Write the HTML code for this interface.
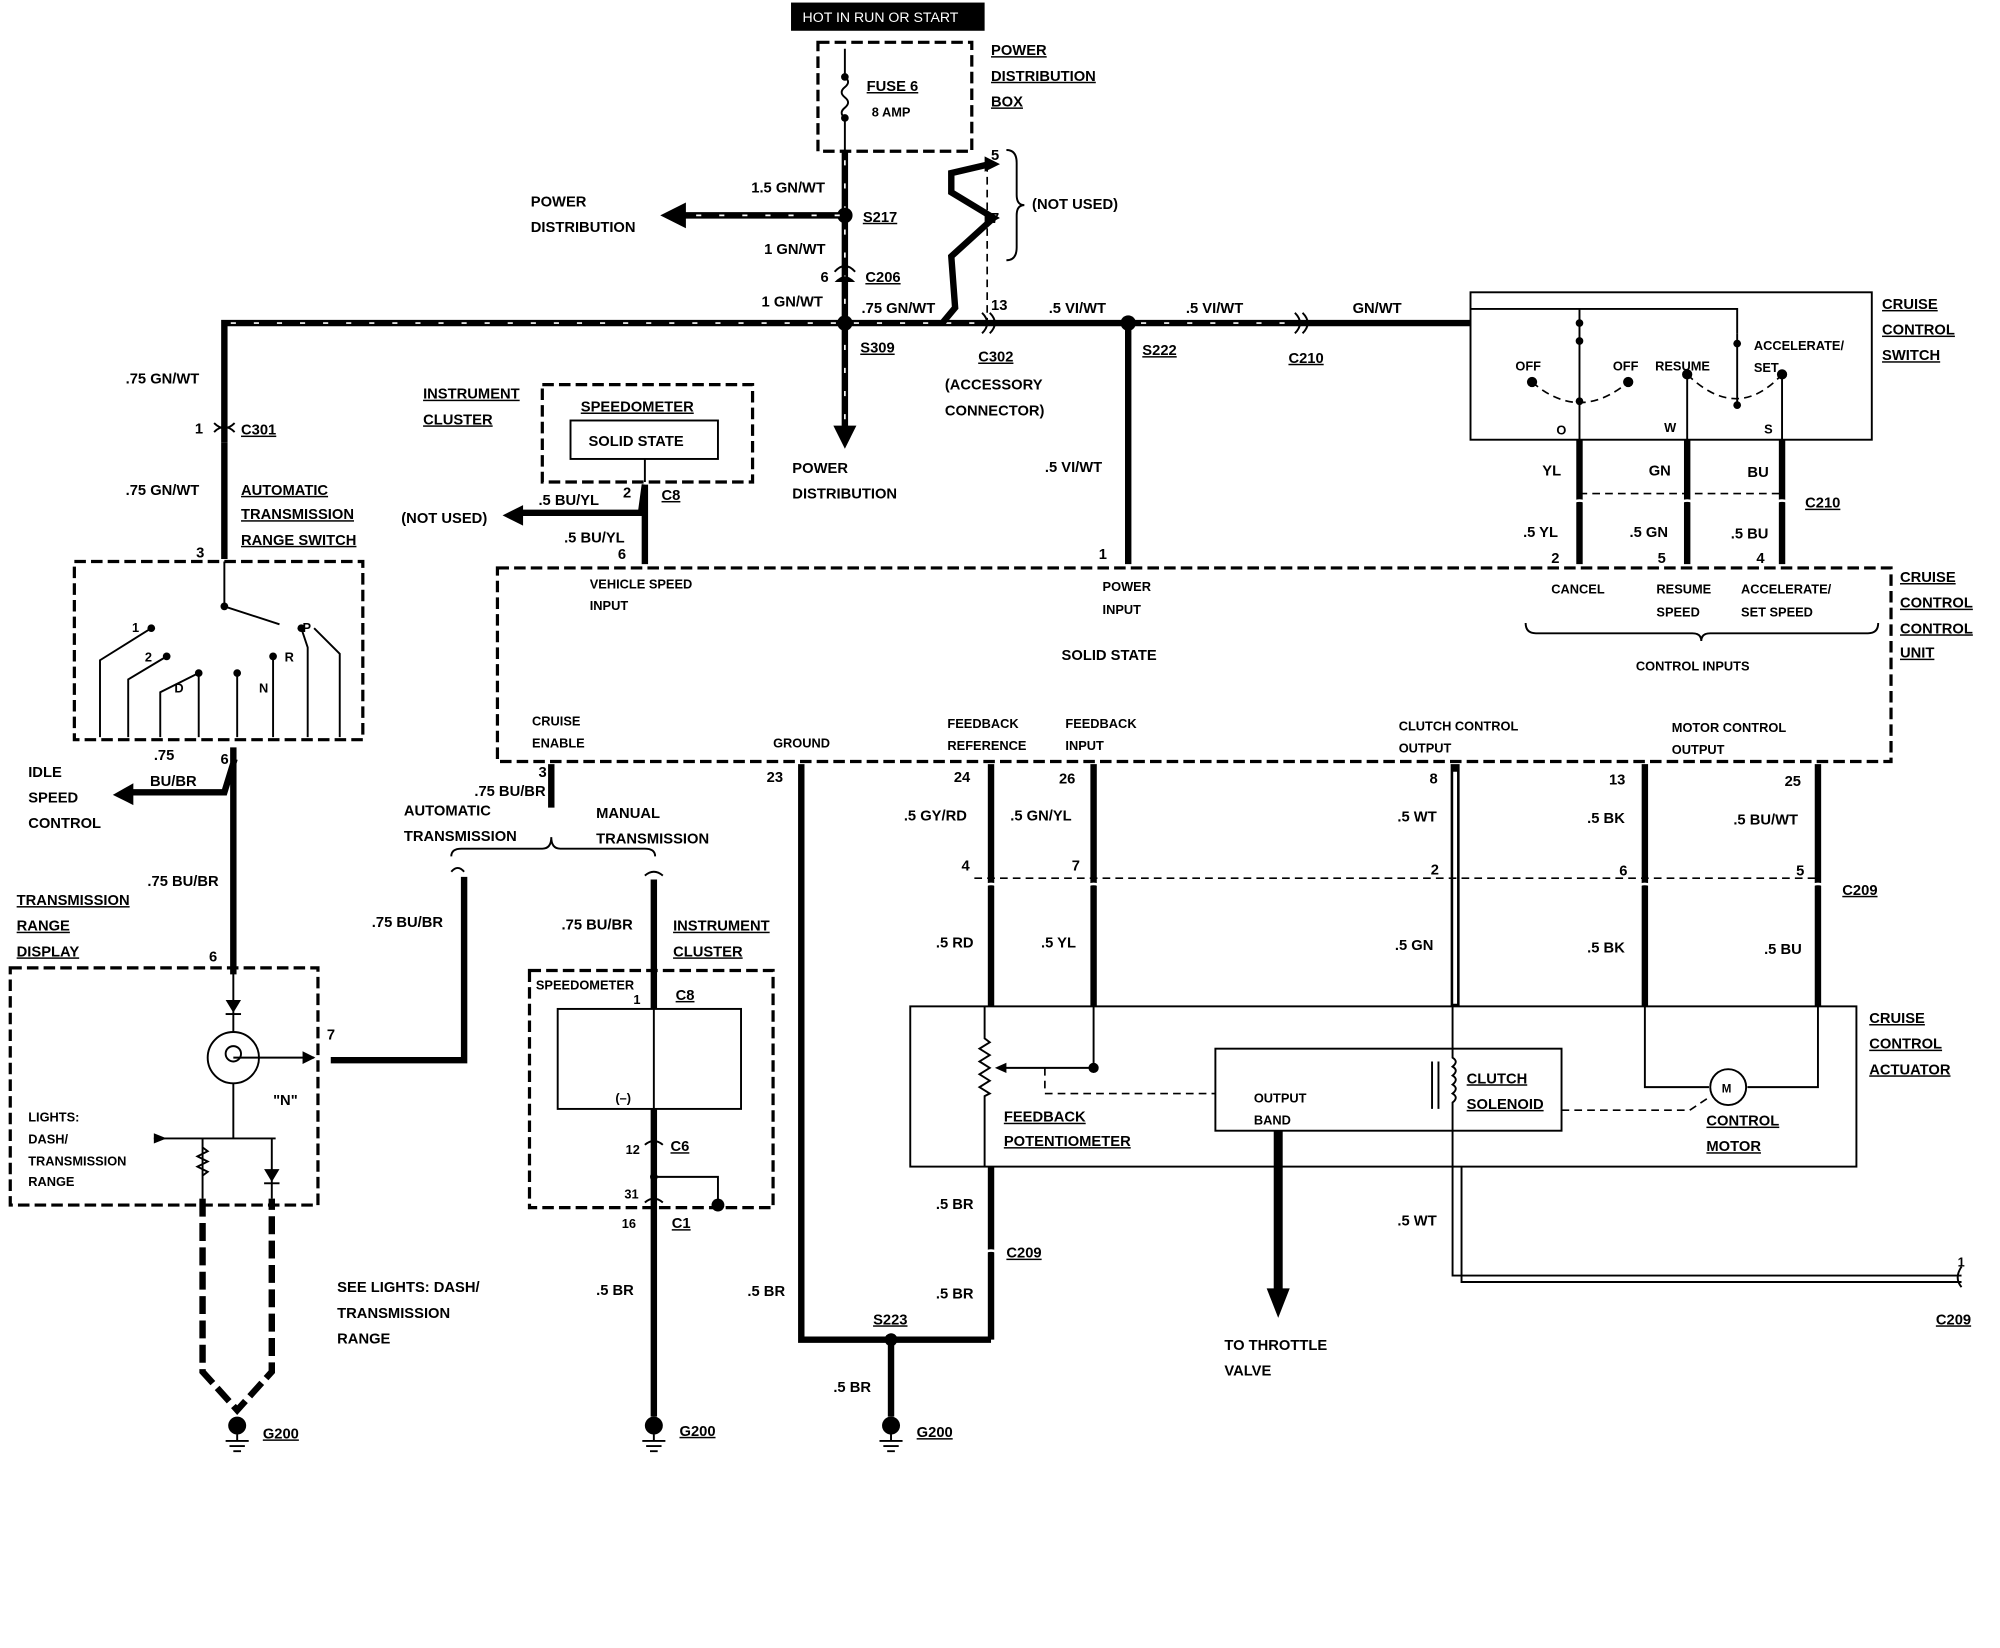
<!DOCTYPE html>
<html><head><meta charset="utf-8"><style>
html,body{margin:0;padding:0;background:#fff}
svg{display:block}
text{font-family:"Liberation Sans",sans-serif;font-weight:bold;font-size:11.5px;fill:#000}
.u{text-decoration:underline}
.s{font-size:10px}
.w{stroke:#000;stroke-width:5;fill:none}
.t{stroke:#000;stroke-width:1.5;fill:none}
.d{stroke:#000;stroke-width:2.5;fill:none;stroke-dasharray:9 4}
.dt{stroke:#000;stroke-width:1.3;fill:none;stroke-dasharray:6 4}
.st{stroke:#fff;stroke-width:1.3;fill:none;stroke-dasharray:4 14}
.ws{stroke:#000;stroke-width:5;fill:none;stroke-dasharray:14 5}
</style></head><body>
<svg width="2000" height="1648" viewBox="0 0 1560 1285.5" preserveAspectRatio="none" xmlns="http://www.w3.org/2000/svg">
<!-- top -->
<rect x="617" y="2" width="151" height="22" fill="#000"/>
<text x="626" y="17" style="fill:#fff;font-weight:normal;font-size:11px">HOT IN RUN OR START</text>
<rect x="638" y="33" width="120" height="85" class="d"/>
<path class="t" d="M659 38 V60 M659 92 V118"/>
<path class="t" d="M659 60 q5 4 0 8 q-5 4 0 8 q5 4 0 8 q-5 4 0 8"/>
<circle cx="659" cy="60" r="3"/><circle cx="659" cy="92" r="3"/>
<text x="676" y="71" class="u">FUSE 6</text><text x="680" y="91" class="s">8 AMP</text>
<text x="773" y="43" class="u">POWER</text><text x="773" y="63" class="u">DISTRIBUTION</text><text x="773" y="83" class="u">BOX</text>
<path class="w" d="M659 118 V340"/><path class="st" d="M659 125 V340"/>
<path d="M650 332 L668 332 L659 350 Z"/>
<circle cx="659" cy="168" r="6"/>
<path class="w" d="M659 168 H530"/><path class="st" d="M655 168 H530"/>
<path d="M535 158 L515 168 L535 178 Z"/>
<text x="414" y="161">POWER</text><text x="414" y="181">DISTRIBUTION</text>
<text x="586" y="150">1.5 GN/WT</text><text x="596" y="198">1 GN/WT</text>
<path d="M651 212 q8 -9 16 0" class="t" stroke-width="3"/><path d="M651 220 q8 -9 16 0" fill="#000"/>
<text x="640" y="220">6</text><text x="675" y="220" class="u">C206</text>
<text x="594" y="239">1 GN/WT</text><text x="672" y="244">.75 GN/WT</text>
<!-- main horizontal -->
<path class="w" d="M175 345 V252 H1147"/><path class="st" d="M180 252 H760 M890 252 H1005"/>
<circle cx="659" cy="252" r="6"/><circle cx="880" cy="252" r="6"/>
<text x="671" y="275" class="u">S309</text><text x="673" y="173" class="u">S217</text>
<path class="t" d="M766 244 q8 8 0 16 M772 244 q8 8 0 16" stroke-width="2.5"/>
<path class="t" d="M1010 244 q8 8 0 16 M1016 244 q8 8 0 16" stroke-width="2.5"/>
<path class="w" d="M735 252 L745 240 L742 200 L775 170 L742 150 L742 135 L772 128"/>
<path d="M768 122 L780 128 L768 134Z M768 164 L780 170 L768 176Z"/>
<path class="dt" d="M770 128 V250"/>
<text x="773" y="125">5</text><text x="773" y="174">7</text><text x="773" y="242">13</text>
<path class="t" d="M785 117 q8 0 8 10 v25 q0 8 6 8 q-6 0 -6 8 v25 q0 10 -8 10"/>
<text x="805" y="163">(NOT USED)</text>
<text x="763" y="282" class="u">C302</text><text x="737" y="304">(ACCESSORY</text><text x="737" y="324">CONNECTOR)</text>
<text x="818" y="244">.5 VI/WT</text><text x="925" y="244">.5 VI/WT</text><text x="1055" y="244">GN/WT</text>
<text x="891" y="277" class="u">S222</text><text x="1005" y="283" class="u">C210</text>
<text x="618" y="369">POWER</text><text x="618" y="389">DISTRIBUTION</text>
<!-- cruise switch -->
<rect x="1147" y="228" width="313" height="115" class="t" stroke-width="2.5"/>
<path class="t" d="M1147 241 H1355 V260"/>
<path class="t" d="M1232 241 V343 M1316 290 V343 M1390 290 V343 M1355 260 V315"/>
<circle cx="1232" cy="252" r="3"/><circle cx="1232" cy="266" r="3"/><circle cx="1355" cy="268" r="3"/>
<circle cx="1195" cy="298" r="4"/><circle cx="1270" cy="298" r="4"/><circle cx="1316" cy="292" r="4"/><circle cx="1390" cy="292" r="4"/>
<path class="dt" d="M1195 298 Q1232 330 1270 298 M1316 292 Q1355 330 1390 292"/>
<circle cx="1232" cy="313" r="3"/><circle cx="1355" cy="316" r="3"/>
<text x="1182" y="289" class="s">OFF</text><text x="1258" y="289" class="s">OFF</text><text x="1291" y="289" class="s">RESUME</text>
<text x="1368" y="273" class="s">ACCELERATE/</text><text x="1368" y="290" class="s">SET</text>
<text x="1214" y="339" class="s">O</text><text x="1298" y="337" class="s">W</text><text x="1376" y="338" class="s">S</text>
<text x="1468" y="241" class="u">CRUISE</text><text x="1468" y="261" class="u">CONTROL</text><text x="1468" y="281" class="u">SWITCH</text>
<path class="w" d="M1232 343 V440 M1316 343 V440 M1390 343 V440"/>
<path class="dt" d="M1232 385 H1390"/>
<g stroke="#fff" stroke-width="2" fill="none"><path d="M1225 393 q7 -5 14 0 M1309 393 q7 -5 14 0 M1383 393 q7 -5 14 0"/></g>
<text x="1203" y="371">YL</text><text x="1286" y="371">GN</text><text x="1363" y="372">BU</text><text x="1408" y="396" class="u">C210</text>
<text x="1188" y="419">.5 YL</text><text x="1271" y="419">.5 GN</text><text x="1350" y="420">.5 BU</text>
<text x="1210" y="439">2</text><text x="1293" y="439">5</text><text x="1370" y="439">4</text>
<!-- power input -->
<path class="w" d="M880 252 V440"/><text x="815" y="368">.5 VI/WT</text><text x="857" y="436">1</text>
<!-- cruise unit -->
<rect x="388" y="443" width="1087" height="151" class="d"/>
<text x="460" y="459" class="s">VEHICLE SPEED</text><text x="460" y="476" class="s">INPUT</text>
<text x="860" y="461" class="s">POWER</text><text x="860" y="479" class="s">INPUT</text>
<text x="1210" y="463" class="s">CANCEL</text><text x="1292" y="463" class="s">RESUME</text><text x="1292" y="481" class="s">SPEED</text>
<text x="1358" y="463" class="s">ACCELERATE/</text><text x="1358" y="481" class="s">SET SPEED</text>
<path class="t" d="M1190 486 q0 8 8 8 H1320 q7 0 7 6 q0 -6 7 -6 H1457 q8 0 8 -8" stroke-width="2"/>
<text x="1276" y="523" class="s">CONTROL INPUTS</text>
<text x="828" y="515">SOLID STATE</text>
<text x="415" y="566" class="s">CRUISE</text><text x="415" y="583" class="s">ENABLE</text>
<text x="603" y="583" class="s">GROUND</text>
<text x="739" y="568" class="s">FEEDBACK</text><text x="739" y="585" class="s">REFERENCE</text>
<text x="831" y="568" class="s">FEEDBACK</text><text x="831" y="585" class="s">INPUT</text>
<text x="1091" y="570" class="s">CLUTCH CONTROL</text><text x="1091" y="587" class="s">OUTPUT</text>
<text x="1304" y="571" class="s">MOTOR CONTROL</text><text x="1304" y="588" class="s">OUTPUT</text>
<text x="1482" y="454" class="u">CRUISE</text><text x="1482" y="474" class="u">CONTROL</text><text x="1482" y="494" class="u">CONTROL</text><text x="1482" y="513" class="u">UNIT</text>
<!-- instrument cluster top -->
<text x="330" y="311" class="u">INSTRUMENT</text><text x="330" y="331" class="u">CLUSTER</text>
<rect x="423" y="300" width="164" height="76" class="d"/>
<text x="453" y="321" class="u">SPEEDOMETER</text>
<rect x="445" y="328" width="115" height="30" class="t"/>
<text x="459" y="348">SOLID STATE</text>
<path class="t" d="M503 358 V376"/>
<path class="w" d="M503 378 L500 400 H405 M503 378 V440"/>
<path d="M408 394 L392 402 L408 410Z"/>
<text x="486" y="388">2</text><text x="516" y="390" class="u">C8</text>
<text x="420" y="394">.5 BU/YL</text><text x="313" y="408">(NOT USED)</text>
<text x="440" y="423">.5 BU/YL</text><text x="482" y="436">6</text>
<!-- left -->
<path class="t" d="M167 330 q8 8 16 0 M167 337 q8 -8 16 0" stroke-width="2.5"/>
<text x="98" y="299">.75 GN/WT</text><text x="152" y="338">1</text><text x="188" y="339" class="u">C301</text>
<text x="98" y="386">.75 GN/WT</text>
<text x="188" y="386" class="u">AUTOMATIC</text><text x="188" y="405" class="u">TRANSMISSION</text><text x="188" y="425" class="u">RANGE SWITCH</text>
<path class="w" d="M175 345 V436"/><text x="153" y="435">3</text>
<rect x="58" y="438" width="225" height="139" class="d"/>
<path class="t" d="M175 438 V473 L218 487"/><circle cx="175" cy="473" r="3"/>
<g class="t"><path d="M78 575 V515 L118 490 M100 575 V530 L130 512 M125 575 V540 L155 525 M155 575 V525 M185 575 V525 M213 575 V512 M240 575 V505 L235 490 M265 575 V510 L245 490"/></g>
<circle cx="118" cy="490" r="3"/><circle cx="130" cy="512" r="3"/><circle cx="155" cy="525" r="3"/><circle cx="185" cy="525" r="3"/><circle cx="213" cy="512" r="3"/><circle cx="235" cy="490" r="3"/>
<text x="103" y="493" class="s">1</text><text x="113" y="516" class="s">2</text><text x="136" y="540" class="s">D</text><text x="202" y="540" class="s">N</text><text x="222" y="516" class="s">R</text><text x="236" y="493" class="s">P</text>
<path class="w" d="M182 583 V760 M183 592 L175 618 H100"/>
<path d="M104 611 L88 620 L104 628Z"/>
<text x="172" y="596">6</text><text x="120" y="593">.75</text><text x="117" y="613">BU/BR</text>
<text x="22" y="606">IDLE</text><text x="22" y="626">SPEED</text><text x="22" y="646">CONTROL</text>
<text x="115" y="691">.75 BU/BR</text>
<text x="13" y="706" class="u">TRANSMISSION</text><text x="13" y="726" class="u">RANGE</text><text x="13" y="746" class="u">DISPLAY</text><text x="163" y="750">6</text>
<rect x="8" y="755" width="240" height="185" class="d"/>
<path class="t" d="M182 755 V805 M182 845 V888 M182 825 H245 M120 888 H215 M158 888 V935 M212 888 V935"/>
<path d="M176 780 L188 780 L182 790Z"/><path class="t" d="M176 791 H188"/>
<circle cx="182" cy="825" r="20" class="t" stroke-width="2.5"/><circle cx="182" cy="822" r="6" class="t"/>
<path d="M236 820 L246 825 L236 830Z"/><path d="M120 884 L130 888 L120 892Z"/>
<path class="t" d="M158 895 l4 3 l-8 4 l8 4 l-8 4 l8 4 l-4 3"/>
<path d="M206 912 L218 912 L212 922Z"/><path class="t" d="M206 923 H218"/>
<text x="213" y="862">"N"</text>
<text x="22" y="875" class="s">LIGHTS:</text><text x="22" y="892" class="s">DASH/</text><text x="22" y="909" class="s">TRANSMISSION</text><text x="22" y="925" class="s">RANGE</text>
<path class="ws" d="M158 935 V1070 L185 1100 L212 1070 V935"/>
<circle cx="185" cy="1112" r="7"/><path class="t" d="M176 1124 H194 M179 1128 H191 M182 1132 H188 M185 1119 V1124"/>
<text x="205" y="1122" class="u">G200</text>
<text x="263" y="1008">SEE LIGHTS: DASH/</text><text x="263" y="1028">TRANSMISSION</text><text x="263" y="1048">RANGE</text>
<text x="255" y="811">7</text>
<path class="w" d="M258 827 H362 V684"/>
<path class="t" d="M352 680 q5 -6 10 0" stroke-width="2.5"/>
<text x="290" y="723">.75 BU/BR</text>
<!-- automatic/manual -->
<path class="w" d="M430 596 V630"/><text x="420" y="606">3</text><text x="370" y="621">.75 BU/BR</text>
<path class="t" d="M352 668 q0 -6 8 -6 H423 q7 0 7 -9 q0 9 7 9 H503 q8 0 8 6" stroke-width="2"/>
<text x="315" y="636">AUTOMATIC</text><text x="315" y="656">TRANSMISSION</text>
<text x="465" y="638">MANUAL</text><text x="465" y="658">TRANSMISSION</text>
<path class="t" d="M503 683 q7 -6 14 0" stroke-width="2.5"/>
<path class="w" d="M510 686 V787 M510 865 V1105"/>
<text x="438" y="725">.75 BU/BR</text><text x="525" y="726" class="u">INSTRUMENT</text><text x="525" y="746" class="u">CLUSTER</text>
<rect x="413" y="757" width="190" height="185" class="d"/>
<text x="418" y="772" class="s">SPEEDOMETER</text>
<text x="494" y="783" class="s">1</text><text x="527" y="780" class="u">C8</text>
<rect x="435" y="787" width="143" height="78" class="t" stroke-width="2.5"/>
<path class="t" d="M510 787 V865"/><text x="480" y="860" class="s">(–)</text>
<path class="t" d="M503 893 q7 -6 14 0 M503 938 q7 -6 14 0" stroke="#fff" stroke-width="2.5"/>
<text x="488" y="900" class="s">12</text><text x="523" y="898" class="u">C6</text>
<path class="t" d="M510 918 H560 V940"/><circle cx="560" cy="940" r="5"/><circle cx="510" cy="918" r="3"/>
<text x="487" y="935" class="s">31</text><text x="485" y="958" class="s">16</text><text x="524" y="958" class="u">C1</text>
<text x="465" y="1010">.5 BR</text>
<circle cx="510" cy="1112" r="7"/><path class="t" d="M501 1124 H519 M504 1128 H516 M507 1132 H513 M510 1119 V1124"/>
<text x="530" y="1120" class="u">G200</text>
<!-- bottom of unit -->
<path class="w" d="M625 596 V1045 H773 M773 596 V785 M853 596 V785 M1283 596 V785 M1418 596 V785 M773 910 V1045 M695 1045 V1105"/>
<path stroke="#000" stroke-width="7" fill="none" d="M1135 596 V785"/><path stroke="#fff" stroke-width="3" fill="none" d="M1135 602 V783"/>
<circle cx="695" cy="1045" r="5"/>
<text x="598" y="610">23</text><text x="744" y="610">24</text><text x="826" y="611">26</text><text x="1115" y="611">8</text><text x="1255" y="612">13</text><text x="1392" y="613">25</text>
<text x="705" y="640">.5 GY/RD</text><text x="788" y="640">.5 GN/YL</text><text x="1090" y="641">.5 WT</text><text x="1238" y="642">.5 BK</text><text x="1352" y="643">.5 BU/WT</text>
<path class="dt" d="M760 685 H1420"/>
<g stroke="#fff" stroke-width="2" fill="none"><path d="M766 692 q7 -5 14 0 M846 692 q7 -5 14 0 M1276 692 q7 -5 14 0 M1411 692 q7 -5 14 0 M766 978 q7 -5 14 0"/></g>
<text x="750" y="679">4</text><text x="836" y="679">7</text><text x="1116" y="682">2</text><text x="1263" y="683">6</text><text x="1401" y="683">5</text><text x="1437" y="698" class="u">C209</text>
<text x="730" y="739">.5 RD</text><text x="812" y="739">.5 YL</text><text x="1088" y="741">.5 GN</text><text x="1238" y="743">.5 BK</text><text x="1376" y="744">.5 BU</text>
<!-- actuator -->
<rect x="710" y="785" width="738" height="125" class="t" stroke-width="3"/>
<text x="1458" y="798" class="u">CRUISE</text><text x="1458" y="818" class="u">CONTROL</text><text x="1458" y="838" class="u">ACTUATOR</text>
<path class="t" d="M768 785 V810 l4 3 l-8 5 l8 5 l-8 5 l8 5 l-8 5 l8 5 l-8 5 l8 5 l-4 2 V910"/>
<path class="t" d="M853 785 V833 H780"/><path d="M785 829 L776 833 L785 837Z"/><circle cx="853" cy="833" r="4"/>
<path class="dt" d="M815 833 V853 H948"/>
<text x="783" y="875" class="u">FEEDBACK</text><text x="783" y="894" class="u">POTENTIOMETER</text>
<rect x="948" y="818" width="270" height="64" class="t" stroke-width="2"/>
<text x="978" y="860" class="s">OUTPUT</text><text x="978" y="877" class="s">BAND</text>
<path class="t" d="M1133 785 V825 q5 3 0 7 q5 3 0 7 q5 3 0 7 q5 3 0 7 q5 3 0 7 V995 H1530 M1140 910 V1000 H1530"/>
<path class="t" d="M1117 828 V865 M1122 828 V865"/>
<text x="1144" y="845" class="u">CLUTCH</text><text x="1144" y="865" class="u">SOLENOID</text>
<path class="t" d="M1283 785 V848 H1333 M1363 848 H1418 V785"/>
<circle cx="1348" cy="848" r="14" class="t" stroke-width="2.5"/><text x="1343" y="852" class="s" style="font-size:9px">M</text>
<path class="dt" d="M1218 866 H1318 L1333 856"/>
<text x="1331" y="878" class="u">CONTROL</text><text x="1331" y="898" class="u">MOTOR</text>
<path stroke="#000" stroke-width="7" fill="none" d="M997 882 V1010"/><path d="M988 1005 L1006 1005 L997 1028Z"/>
<text x="955" y="1053">TO THROTTLE</text><text x="955" y="1073">VALVE</text>
<text x="1090" y="956">.5 WT</text>
<path class="t" d="M1530 988 q-6 9 0 16" stroke-width="2.5"/><text x="1527" y="988" class="s">1</text>
<text x="1510" y="1033" class="u">C209</text>
<text x="730" y="943">.5 BR</text><text x="785" y="981" class="u">C209</text><text x="730" y="1013">.5 BR</text>
<text x="681" y="1033" class="u">S223</text><text x="583" y="1011">.5 BR</text><text x="650" y="1086">.5 BR</text>
<circle cx="695" cy="1112" r="7"/><path class="t" d="M686 1124 H704 M689 1128 H701 M692 1132 H698 M695 1119 V1124"/>
<text x="715" y="1121" class="u">G200</text>
</svg>
</body></html>
